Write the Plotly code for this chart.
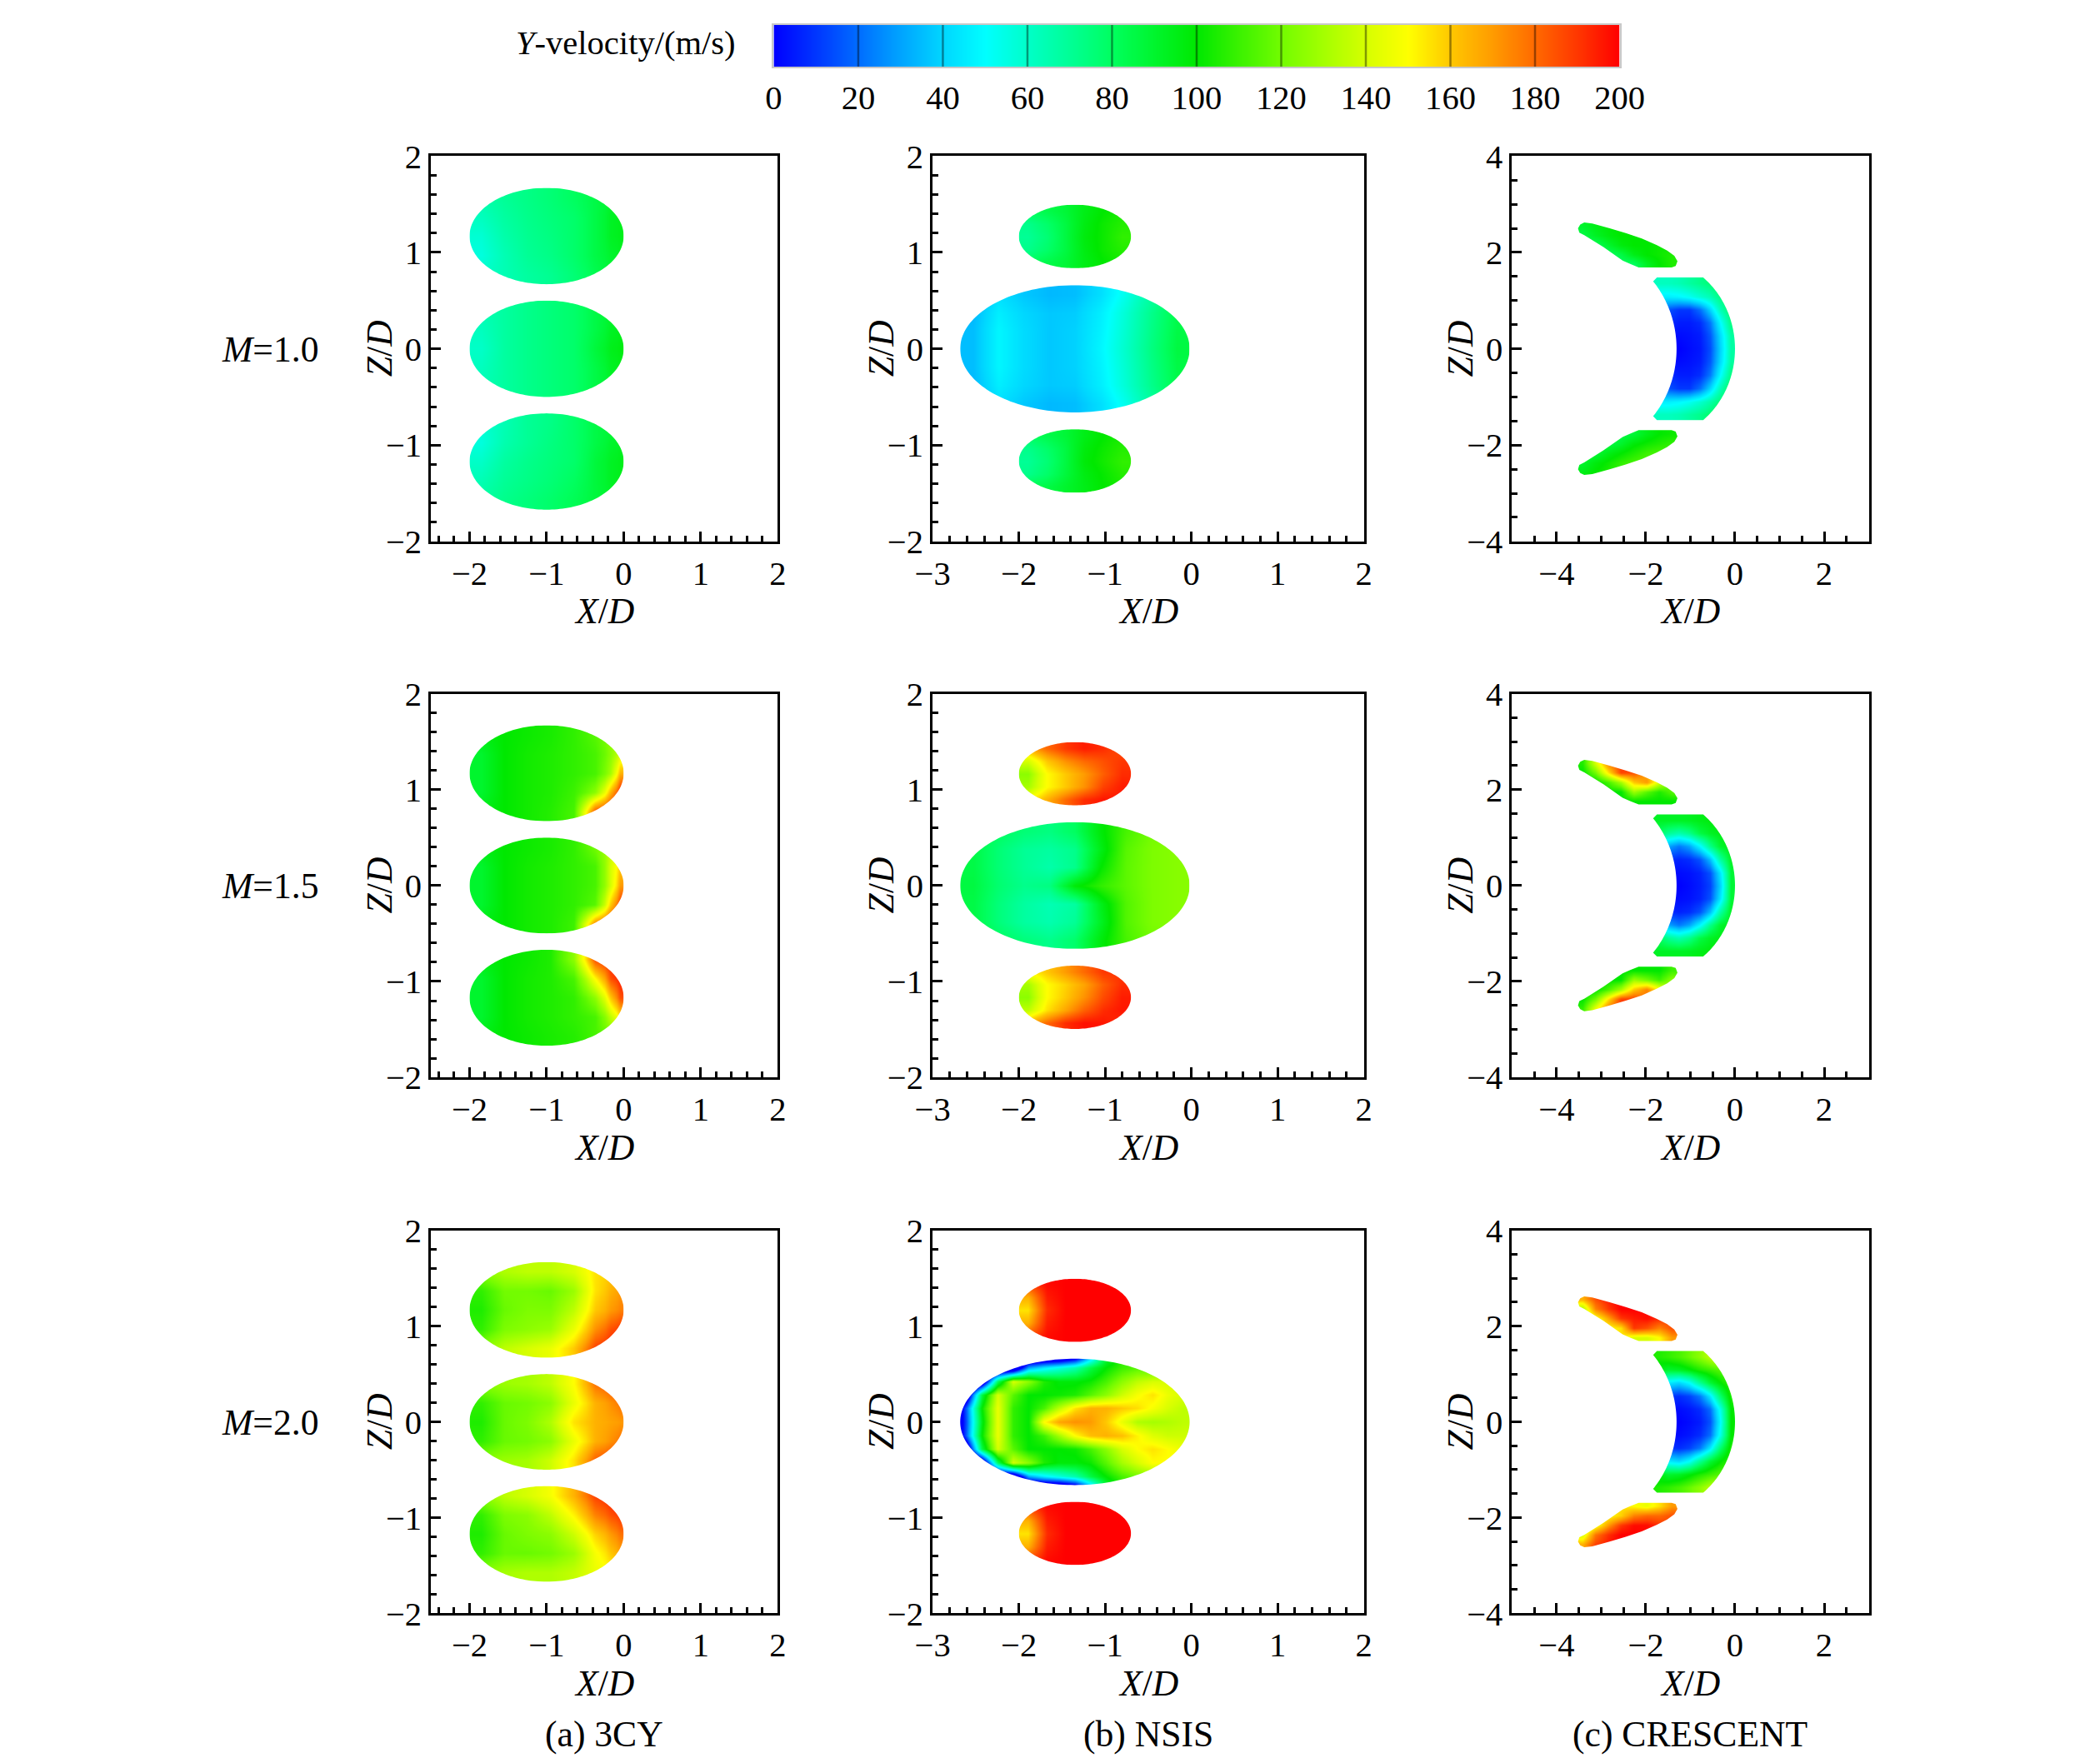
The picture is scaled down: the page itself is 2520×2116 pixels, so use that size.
import numpy as np
import plotly.graph_objects as go

FONT = "Liberation Serif"
W, H = 2520, 2116
# the photographed page shows the figure slightly reduced and offset;
# layout positions below are given in the photographed frame and mapped back
CAP_OFF, CAP_SCALE = 27.5, 0.986

# ---------------- colour scale (Y-velocity, m/s) ----------------
CS_LEVELS = [0, 10, 20, 30, 40, 50, 60, 70, 80, 90, 100,
             110, 120, 130, 140, 150, 160, 170, 180, 190, 200]
CS_COLORS = ["rgb(0,0,255)", "rgb(0,55,255)", "rgb(0,110,255)", "rgb(0,165,255)",
             "rgb(0,215,255)", "rgb(0,255,255)", "rgb(0,255,200)", "rgb(0,255,150)",
             "rgb(0,255,95)", "rgb(0,245,45)", "rgb(0,232,0)", "rgb(60,242,0)",
             "rgb(115,252,0)", "rgb(165,255,0)", "rgb(215,255,0)", "rgb(255,255,0)",
             "rgb(255,200,0)", "rgb(255,155,0)", "rgb(255,105,0)", "rgb(255,55,0)",
             "rgb(255,0,0)"]
CB_TICKS = [0, 20, 40, 60, 80, 100, 120, 140, 160, 180, 200]
CB_TITLE = "<i>Y</i>-velocity/(m/s)"

# ---------------- panel text / axes ----------------
ROW_LABELS = ["<i>M</i>=1.0", "<i>M</i>=1.5", "<i>M</i>=2.0"]
COL_LABELS = ["(a) 3CY", "(b) NSIS", "(c) CRESCENT"]
X_TITLE = "<i>X</i>/<i>D</i>"
Y_TITLE = "<i>Z</i>/<i>D</i>"
X_RANGES = [[-2.5, 2], [-3, 2], [-5, 3]]
Y_RANGES = [[-2, 2], [-2, 2], [-4, 4]]
X_TICKS = [[-2, -1, 0, 1, 2], [-3, -2, -1, 0, 1, 2], [-4, -2, 0, 2]]
Y_TICKS = [[-2, -1, 0, 1, 2], [-2, -1, 0, 1, 2], [-4, -2, 0, 2, 4]]
MINOR_DT = [0.2, 0.2, 0.5]

# ---------------- hole geometry (X/D, Z/D) ----------------
CY_XC, CY_A, CY_B = -1.0, 1.0, 0.5
CY_ZC = [1.17, 0.0, -1.17]
CY_X_EDGES = [-2.0, -1.7, -1.4, -1.1, -0.8, -0.5, -0.25, -0.1, 0.0]
NS_XC = -1.35
NS_SMALL_A, NS_SMALL_B, NS_SMALL_ZC = 0.65, 0.33, [1.165, -1.165]
NS_BIG_A, NS_BIG_B = 1.33, 0.66
NS_BIG_FINE_BOX = ([-2.88, 0.0], [-0.78, 0.78])
CRES_OUT_C, CRES_OUT_R = -1.893, 1.893
CRES_IN_C, CRES_IN_R = -3.437, 2.127
CRES_HALF, CRES_INNER_END, CRES_CORNER_X = 1.48, 1.40, -1.75
CRES_BOX_X, CRES_BOX_Z = [-1.85, 0.02], [-1.5, 1.5]
WING_X = [-3.52, -3.47, -3.38, -3.20, -2.81, -2.45, -2.09, -1.75, -1.52, -1.36,
          -1.29, -1.33, -1.42, -2.16, -2.35, -2.52, -2.95, -3.38, -3.49]
WING_Z = [2.50, 2.58, 2.62, 2.60, 2.50, 2.40, 2.29, 2.15, 2.04, 1.93,
          1.82, 1.72, 1.69, 1.69, 1.76, 1.83, 2.11, 2.36, 2.41]
WING_BOX_X, WING_BOX_Z = [-3.56, -1.272], [1.66, 2.66]

# ---------------- velocity samples (rows listed top -> bottom) ----------------
# 3CY holes: 5 rows x 8 columns (columns on CY_X_EDGES)
V_3CY_M10_TOP = [[66, 70, 73, 76, 80, 85, 90, 92], [62, 68, 72, 75, 78, 85, 92, 94],
                 [58, 66, 71, 74, 78, 85, 92, 94], [56, 64, 70, 73, 78, 85, 90, 92],
                 [60, 64, 68, 71, 76, 83, 88, 90]]
V_3CY_M10_MID = [[64, 68, 72, 75, 78, 85, 90, 92], [62, 68, 72, 75, 78, 85, 92, 94],
                 [60, 68, 72, 75, 78, 87, 94, 96], [62, 68, 72, 75, 78, 85, 92, 94],
                 [64, 68, 72, 75, 78, 85, 90, 92]]
V_3CY_M10_BOT = [[58, 64, 70, 73, 78, 85, 88, 90], [56, 65, 70, 74, 78, 85, 90, 92],
                 [60, 68, 72, 75, 78, 87, 92, 94], [64, 70, 73, 76, 80, 87, 92, 94],
                 [68, 72, 75, 78, 82, 87, 90, 92]]
V_3CY_M15_TOP = [[95, 100, 102, 104, 108, 115, 125, 130], [90, 100, 103, 105, 108, 112, 125, 140],
                 [90, 100, 103, 105, 108, 112, 130, 165], [90, 100, 103, 105, 110, 125, 165, 195],
                 [95, 100, 103, 106, 112, 185, 195, 195]]
V_3CY_M15_MID = [[95, 100, 102, 104, 108, 120, 135, 140], [90, 100, 103, 105, 108, 112, 140, 160],
                 [90, 100, 103, 105, 108, 112, 140, 170], [90, 100, 103, 105, 108, 115, 160, 190],
                 [95, 100, 103, 105, 110, 175, 190, 195]]
V_3CY_M15_BOT = [[95, 100, 102, 105, 125, 185, 195, 195], [90, 100, 103, 105, 112, 150, 185, 195],
                 [90, 100, 103, 105, 108, 125, 160, 185], [90, 100, 103, 105, 108, 112, 135, 155],
                 [95, 100, 102, 104, 106, 112, 120, 125]]
V_3CY_M20_TOP = [[125, 132, 135, 135, 140, 155, 160, 165], [108, 120, 120, 118, 128, 155, 165, 170],
                 [105, 118, 122, 122, 135, 160, 170, 175], [108, 122, 125, 128, 145, 172, 185, 190],
                 [125, 135, 140, 145, 160, 188, 195, 195]]
V_3CY_M20_MID = [[125, 128, 130, 135, 150, 178, 185, 185], [108, 118, 120, 125, 145, 165, 172, 178],
                 [105, 118, 122, 132, 155, 165, 168, 170], [108, 118, 120, 125, 145, 165, 172, 178],
                 [125, 128, 130, 138, 155, 182, 188, 190]]
V_3CY_M20_BOT = [[125, 135, 140, 148, 165, 188, 195, 195], [108, 122, 125, 135, 152, 175, 185, 190],
                 [105, 118, 122, 125, 138, 158, 170, 178], [108, 118, 118, 120, 128, 148, 160, 168],
                 [125, 130, 132, 132, 136, 145, 150, 155]]

# NSIS small holes: 5 rows x 6 columns
V_NS_M10_TOP = [[80, 84, 88, 95, 100, 104], [72, 78, 86, 96, 102, 106],
                [70, 76, 86, 97, 102, 108], [72, 78, 86, 96, 102, 106],
                [80, 84, 88, 95, 100, 104]]
V_NS_M10_BOT = [[80, 84, 88, 95, 100, 104], [72, 78, 86, 97, 102, 106],
                [70, 76, 86, 98, 103, 108], [72, 78, 87, 96, 101, 106],
                [82, 85, 90, 95, 100, 104]]
V_NS_M15_TOP = [[165, 180, 190, 195, 192, 185], [140, 160, 172, 180, 185, 190],
                [125, 150, 160, 170, 182, 192], [130, 150, 160, 172, 188, 195],
                [150, 165, 180, 192, 196, 195]]
V_NS_M15_BOT = [[150, 160, 170, 180, 190, 190], [130, 150, 158, 168, 182, 192],
                [125, 150, 160, 172, 186, 195], [135, 155, 168, 182, 192, 196],
                [165, 180, 192, 197, 196, 192]]
V_NS_M20_TOP = [[185, 198, 200, 200, 200, 200], [165, 195, 200, 200, 200, 200],
                [155, 192, 200, 200, 200, 200], [165, 195, 200, 200, 200, 200],
                [185, 198, 200, 200, 200, 200]]
V_NS_M20_BOT = [[185, 198, 200, 200, 200, 200], [165, 195, 200, 200, 200, 200],
                [155, 192, 200, 200, 200, 200], [165, 195, 200, 200, 200, 200],
                [185, 198, 200, 200, 200, 200]]
# NSIS big hole (7 x 9 over the ellipse box)
V_NS_M10_BIG = [[32, 42, 37, 34, 35, 42, 54, 68, 80], [34, 46, 40, 37, 38, 46, 58, 72, 84],
                [35, 48, 41, 37, 39, 47, 59, 73, 85], [35, 48, 41, 37, 39, 48, 60, 74, 86],
                [35, 48, 41, 37, 39, 47, 59, 73, 85], [34, 46, 40, 37, 38, 46, 58, 72, 84],
                [32, 42, 37, 34, 35, 42, 54, 68, 80]]
V_NS_M15_BIG = [[85, 80, 76, 74, 80, 98, 112, 120, 122], [85, 76, 70, 68, 72, 95, 115, 122, 124],
                [85, 76, 70, 66, 72, 100, 116, 122, 124], [86, 77, 72, 74, 98, 108, 116, 122, 124],
                [85, 75, 68, 64, 68, 94, 114, 122, 124], [85, 75, 68, 65, 70, 92, 114, 122, 124],
                [85, 80, 75, 72, 78, 97, 112, 120, 122]]
# NSIS big hole at M=2.0 (11 x 16 over NS_BIG_FINE_BOX; cells beyond the rim are masked)
V_NS_M20_BIG = [
    [-60, -60, -60, -60, -60, -60, -60, -60, -40, 20, 80, 105, 115, 115, 115, 115],
    [-40, -40, -40, -40, -40, 30, 45, 55, 65, 85, 100, 110, 115, 115, 115, 115],
    [-60, -60, -30, 80, 140, 125, 105, 98, 98, 102, 112, 125, 135, 140, 140, 140],
    [-60, -25, 85, 140, 115, 100, 100, 102, 105, 115, 125, 138, 148, 155, 145, 140],
    [-50, 18, 100, 145, 108, 100, 112, 135, 155, 165, 165, 160, 156, 148, 140, 135],
    [-45, 15, 95, 145, 108, 100, 150, 168, 172, 170, 160, 145, 132, 130, 132, 135],
    [-50, 18, 100, 145, 108, 100, 110, 130, 150, 162, 165, 162, 152, 142, 138, 138],
    [-60, -25, 85, 140, 115, 100, 100, 100, 102, 112, 125, 140, 150, 155, 150, 145],
    [-60, -60, -30, 80, 140, 125, 105, 98, 98, 102, 115, 130, 140, 150, 150, 150],
    [-40, -40, -40, -40, -40, 30, 45, 55, 65, 85, 100, 112, 120, 125, 125, 125],
    [-60, -60, -60, -60, -60, -60, -60, -60, -40, 20, 80, 105, 120, 125, 125, 125]]

# CRESCENT central piece: 11 rows x 8 columns
V_CR_M10_MID = [[62, 62, 64, 68, 72, 76, 80, 82], [46, 46, 48, 52, 58, 64, 74, 80],
                [20, 15, 10, 10, 20, 40, 64, 80], [10, 8, 5, 5, 8, 22, 50, 74],
                [2, 2, 2, 3, 5, 16, 42, 68], [0, 0, 0, 2, 4, 14, 40, 67],
                [2, 2, 2, 3, 5, 16, 42, 68], [10, 8, 5, 5, 8, 22, 50, 74],
                [20, 15, 10, 10, 20, 40, 64, 82], [46, 46, 48, 52, 58, 66, 76, 82],
                [62, 62, 64, 68, 72, 78, 82, 84]]
V_CR_M15_MID = [[92, 92, 92, 93, 95, 97, 98, 98], [80, 70, 65, 72, 85, 92, 95, 97],
                [40, 30, 22, 30, 48, 72, 90, 95], [10, 8, 6, 8, 15, 35, 68, 92],
                [2, 2, 2, 3, 6, 15, 45, 88], [0, 0, 0, 2, 5, 12, 40, 88],
                [2, 2, 2, 3, 6, 15, 45, 88], [10, 8, 6, 8, 15, 35, 68, 92],
                [40, 30, 22, 30, 48, 72, 90, 95], [80, 70, 65, 72, 85, 92, 95, 97],
                [92, 92, 92, 93, 95, 97, 98, 98]]
V_CR_M20_MID = [[105, 108, 112, 118, 125, 135, 140, 140], [95, 90, 92, 98, 105, 110, 115, 118],
                [55, 45, 40, 50, 70, 88, 100, 110], [15, 10, 8, 12, 22, 45, 78, 105],
                [2, 2, 2, 4, 8, 20, 55, 100], [0, 0, 0, 2, 5, 15, 50, 100],
                [2, 2, 2, 4, 8, 20, 55, 100], [15, 10, 8, 12, 22, 45, 78, 105],
                [55, 45, 40, 50, 70, 88, 100, 110], [95, 90, 92, 98, 105, 110, 115, 118],
                [105, 108, 112, 118, 125, 135, 140, 140]]
# CRESCENT wings: 5 rows x 8 columns
V_CR_M10_UP = [[90, 95, 98, 100, 100, 100, 100, 100], [85, 92, 97, 100, 100, 100, 100, 100],
               [80, 82, 90, 97, 100, 100, 102, 102], [80, 80, 80, 85, 95, 100, 102, 105],
               [80, 80, 80, 80, 80, 92, 100, 105]]
V_CR_M10_LO = [[85, 85, 85, 85, 88, 95, 100, 102], [85, 85, 85, 90, 98, 102, 105, 108],
               [85, 88, 95, 100, 105, 110, 112, 112], [90, 97, 102, 108, 112, 115, 115, 115],
               [95, 100, 105, 110, 115, 115, 115, 115]]
V_CR_M15_UP = [[105, 140, 175, 188, 185, 170, 140, 115], [100, 120, 155, 188, 185, 170, 140, 115],
               [100, 100, 112, 130, 160, 170, 140, 115], [100, 100, 100, 100, 128, 115, 105, 115],
               [100, 100, 100, 100, 100, 100, 100, 100]]
V_CR_M15_LO = [[100, 100, 100, 100, 100, 100, 100, 110], [100, 100, 100, 100, 128, 120, 110, 125],
               [100, 100, 112, 130, 160, 175, 150, 125], [100, 120, 155, 188, 188, 175, 150, 125],
               [108, 145, 178, 190, 188, 175, 150, 125]]
V_CR_M20_UP = [[165, 185, 195, 200, 200, 198, 192, 185], [130, 175, 190, 200, 200, 198, 192, 185],
               [130, 145, 168, 190, 195, 198, 192, 185], [130, 145, 150, 155, 190, 185, 175, 185],
               [130, 145, 150, 155, 140, 140, 150, 170]]
V_CR_M20_LO = [[130, 145, 150, 155, 150, 145, 155, 170], [130, 145, 150, 158, 175, 180, 180, 185],
               [130, 145, 170, 190, 198, 198, 192, 185], [140, 178, 192, 200, 200, 198, 192, 185],
               [165, 188, 196, 200, 200, 198, 192, 185]]

# ---------------- page layout (pixels of the photographed frame) ----------------
COL_PX = [(518, 937), (1124, 1645), (1824, 2255)]
ROW_PX = [(186, 652), (836, 1300), (1485, 1948)]
CB_PX_X, CB_PX_Y = (932, 1954), (27.5, 78)
CB_TITLE_PX = (888, 49)
ROWLAB_RIGHT_PX = 384
CAPTION_Y_PX = 2094
XT_OFF_PX, YT_OFF_PX = 84, 63


def fx(q):
    return (q - CAP_OFF) / CAP_SCALE / W


def fy(q):
    return 1 - (q - CAP_OFF) / CAP_SCALE / H


def fs(s):
    return s / CAP_SCALE


def ellipse(xc, zc, a, b, n=180):
    t = np.linspace(0, 2 * np.pi, n, endpoint=False)
    return list(xc + a * np.cos(t)), list(zc + b * np.sin(t))


def crescent():
    zo = np.linspace(CRES_HALF, -CRES_HALF, 90)
    xo = CRES_OUT_C + np.sqrt(CRES_OUT_R ** 2 - zo ** 2)
    zi = np.linspace(-CRES_INNER_END, CRES_INNER_END, 90)
    xi = CRES_IN_C + np.sqrt(CRES_IN_R ** 2 - zi ** 2)
    xs = list(xo) + [CRES_CORNER_X] + list(xi) + [CRES_CORNER_X]
    zs = list(zo) + [-CRES_HALF] + list(zi) + [CRES_HALF]
    return xs, zs


def ell_hole(xc, zc, a, b, vals, xedges=None, box=None):
    bx, bz = box if box else ([xc - a, xc + a], [zc - b, zc + b])
    return dict(box=(bx, bz), outline=ellipse(xc, zc, a, b), vals=vals, xedges=xedges)


def cy_panel(v3):
    return [ell_hole(CY_XC, zc, CY_A, CY_B, v, xedges=CY_X_EDGES) for zc, v in zip(CY_ZC, v3)]


def ns_panel(vt, vb, vbig, fine=False):
    holes = [ell_hole(NS_XC, zc, NS_SMALL_A, NS_SMALL_B, v) for zc, v in zip(NS_SMALL_ZC, [vt, vb])]
    holes.append(ell_hole(NS_XC, 0.0, NS_BIG_A, NS_BIG_B, vbig,
                          box=NS_BIG_FINE_BOX if fine else None))
    return holes


def cr_panel(vup, vmid, vlo):
    return [dict(box=(WING_BOX_X, WING_BOX_Z), outline=(WING_X, WING_Z), vals=vup, xedges=None),
            dict(box=(CRES_BOX_X, CRES_BOX_Z), outline=crescent(), vals=vmid, xedges=None),
            dict(box=(WING_BOX_X, [-WING_BOX_Z[1], -WING_BOX_Z[0]]),
                 outline=(WING_X, [-z for z in WING_Z]), vals=vlo, xedges=None)]


PANELS = [
    [cy_panel([V_3CY_M10_TOP, V_3CY_M10_MID, V_3CY_M10_BOT]),
     ns_panel(V_NS_M10_TOP, V_NS_M10_BOT, V_NS_M10_BIG),
     cr_panel(V_CR_M10_UP, V_CR_M10_MID, V_CR_M10_LO)],
    [cy_panel([V_3CY_M15_TOP, V_3CY_M15_MID, V_3CY_M15_BOT]),
     ns_panel(V_NS_M15_TOP, V_NS_M15_BOT, V_NS_M15_BIG),
     cr_panel(V_CR_M15_UP, V_CR_M15_MID, V_CR_M15_LO)],
    [cy_panel([V_3CY_M20_TOP, V_3CY_M20_MID, V_3CY_M20_BOT]),
     ns_panel(V_NS_M20_TOP, V_NS_M20_BOT, V_NS_M20_BIG, fine=True),
     cr_panel(V_CR_M20_UP, V_CR_M20_MID, V_CR_M20_LO)],
]

fig = go.Figure()
shapes = []
annotations = []
axis_font = dict(family=FONT, size=fs(40), color="black")
label_font = dict(family=FONT, size=fs(43), color="black")

for r in range(3):
    for c in range(3):
        k = r * 3 + c + 1
        sx = "" if k == 1 else str(k)
        for hole in PANELS[r][c]:
            (bx, bz), vals = hole["box"], np.array(hole["vals"], dtype=float)
            nr, nc = vals.shape
            xe = np.array(hole["xedges"]) if hole["xedges"] else np.linspace(bx[0], bx[1], nc + 1)
            ze = np.linspace(bz[0], bz[1], nr + 1)
            fig.add_trace(go.Heatmap(x=xe, y=ze, z=vals[::-1], zsmooth="best",
                                     coloraxis="coloraxis", hoverinfo="skip",
                                     xaxis="x" + sx, yaxis="y" + sx))
            m = 0.03
            ox, oz = hole["outline"]
            path = (f"M{bx[0]-m:.4f},{bz[0]-m:.4f} L{bx[1]+m:.4f},{bz[0]-m:.4f} "
                    f"L{bx[1]+m:.4f},{bz[1]+m:.4f} L{bx[0]-m:.4f},{bz[1]+m:.4f} Z M"
                    + " L".join(f"{x:.4f},{z:.4f}" for x, z in zip(ox, oz)) + " Z")
            shapes.append(dict(type="path", path=path, xref="x" + sx, yref="y" + sx,
                               fillcolor="white", line=dict(width=0), fillrule="evenodd",
                               layer="above"))
        common = dict(showline=True, linecolor="black", linewidth=3, mirror=True,
                      ticks="inside", ticklen=12, tickwidth=3, tickcolor="black",
                      showgrid=False, zeroline=False, tickfont=axis_font,
                      ticklabelstandoff=0)
        minor = dict(dtick=MINOR_DT[c], ticks="inside", ticklen=7, tickwidth=2.5,
                     tickcolor="black")
        fig.update_layout(**{
            "xaxis" + sx: dict(common, domain=[fx(COL_PX[c][0]), fx(COL_PX[c][1])],
                               anchor="y" + sx, range=X_RANGES[c], tickvals=X_TICKS[c],
                               minor=minor),
            "yaxis" + sx: dict(common, domain=[fy(ROW_PX[r][1]), fy(ROW_PX[r][0])],
                               anchor="x" + sx, range=Y_RANGES[c], tickvals=Y_TICKS[c],
                               minor=minor),
        })
        annotations.append(dict(text=X_TITLE, x=fx((COL_PX[c][0] + COL_PX[c][1]) / 2),
                                y=fy(ROW_PX[r][1] + XT_OFF_PX), xref="paper", yref="paper",
                                xanchor="center", yanchor="middle", showarrow=False,
                                font=label_font))
        annotations.append(dict(text=Y_TITLE, x=fx(COL_PX[c][0] - YT_OFF_PX),
                                y=fy((ROW_PX[r][0] + ROW_PX[r][1]) / 2), xref="paper",
                                yref="paper", xanchor="center", yanchor="middle",
                                textangle=-90, showarrow=False, font=label_font))
    annotations.append(dict(text=ROW_LABELS[r], x=fx(ROWLAB_RIGHT_PX),
                            y=fy((ROW_PX[r][0] + ROW_PX[r][1]) / 2),
                            xref="paper", yref="paper", xanchor="right", yanchor="middle",
                            showarrow=False, font=label_font))

for c in range(3):
    annotations.append(dict(text=COL_LABELS[c], x=fx((COL_PX[c][0] + COL_PX[c][1]) / 2),
                            y=fy(CAPTION_Y_PX), xref="paper", yref="paper", xanchor="center",
                            yanchor="middle", showarrow=False, font=label_font))

# ---------------- colour bar on its own axis ----------------
fig.add_trace(go.Heatmap(x=CB_TICKS, y=[0, 1], z=[CB_TICKS, CB_TICKS], zsmooth="best",
                         coloraxis="coloraxis", hoverinfo="skip", xaxis="x10", yaxis="y10"))
lx, ly = [], []
for v in CB_TICKS[1:-1]:
    lx += [v, v, None]
    ly += [0, 1, None]
fig.add_trace(go.Scatter(x=lx, y=ly, mode="lines", line=dict(color="rgba(0,0,0,0.4)", width=2.5),
                         hoverinfo="skip", showlegend=False, xaxis="x10", yaxis="y10"))
fig.update_layout(
    xaxis10=dict(domain=[fx(CB_PX_X[0]), fx(CB_PX_X[1])], anchor="y10", range=[0, 200],
                 tickvals=CB_TICKS, ticks="", showgrid=False, zeroline=False, showline=True,
                 linecolor="#c8c8c8", linewidth=2, mirror=True, tickfont=axis_font,
                 ticklabelstandoff=0),
    yaxis10=dict(domain=[fy(CB_PX_Y[1]), min(1.0, fy(CB_PX_Y[0]))], anchor="x10", range=[0, 1],
                 showticklabels=False, ticks="", showgrid=False, zeroline=False, showline=True,
                 linecolor="#c8c8c8", linewidth=2, mirror=True),
)
annotations.append(dict(text=CB_TITLE, x=fx(CB_TITLE_PX[0]), y=fy(CB_TITLE_PX[1]),
                        xref="paper", yref="paper", xanchor="right", yanchor="middle",
                        showarrow=False, font=axis_font))

fig.update_layout(
    width=W, height=H, margin=dict(l=0, r=0, t=0, b=0),
    paper_bgcolor="white", plot_bgcolor="white", showlegend=False,
    coloraxis=dict(cmin=0, cmax=200, showscale=False,
                   colorscale=[[lv / 200, col] for lv, col in zip(CS_LEVELS, CS_COLORS)]),
    shapes=shapes, annotations=annotations,
    font=dict(family=FONT, color="black"),
)

fig.write_html("out.html")
